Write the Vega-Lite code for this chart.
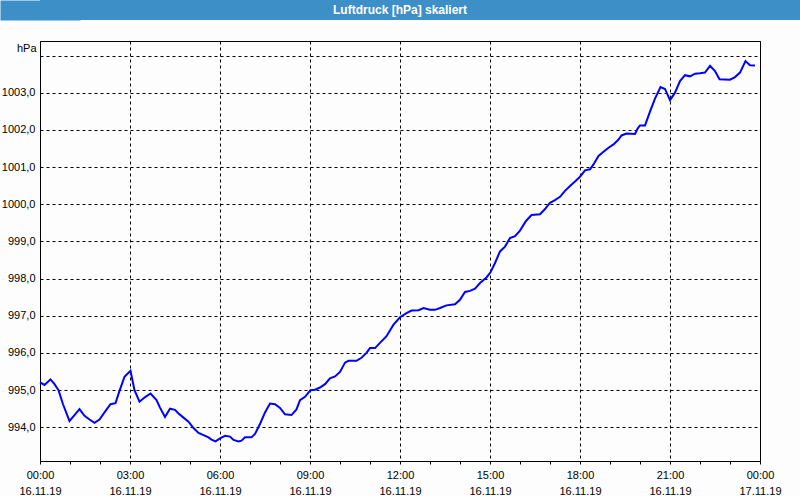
{
  "$schema": "https://vega.github.io/schema/vega-lite/v6.json",
  "padding": 0,
  "background": "#fcfdfc",
  "spacing": 20,
  "config": {
    "view": {"stroke": "#000000", "strokeWidth": 1},
    "font": "Liberation Sans"
  },
  "vconcat": [
    {
      "width": 760,
      "height": 20,
      "view": {"fill": "#3d8fc7", "stroke": null},
      "data": {"values": [{"title": "Luftdruck [hPa] skaliert"}]},
      "mark": {"type": "text", "color": "white", "font": "Liberation Sans", "fontWeight": "bold", "fontSize": 12, "align": "center", "baseline": "middle", "dx": -20},
      "encoding": {
        "text": {"field": "title", "type": "nominal"},
        "y": {"field": "title", "type": "nominal", "axis": {"title": null, "labels": false, "ticks": false, "domain": true, "domainColor": "#3d8fc7", "domainWidth": 80, "domainCap": "butt"}}
      }
    },
    {
      "width": 720,
      "height": 420,
      "data": {"values": [
        {"t": "2019-11-16T00:00", "p": 995.21},
        {"t": "2019-11-16T00:09", "p": 995.14},
        {"t": "2019-11-16T00:21", "p": 995.29},
        {"t": "2019-11-16T00:29", "p": 995.16},
        {"t": "2019-11-16T00:37", "p": 995.00},
        {"t": "2019-11-16T00:46", "p": 994.62},
        {"t": "2019-11-16T00:59", "p": 994.17},
        {"t": "2019-11-16T01:09", "p": 994.33},
        {"t": "2019-11-16T01:19", "p": 994.49},
        {"t": "2019-11-16T01:29", "p": 994.31},
        {"t": "2019-11-16T01:39", "p": 994.21},
        {"t": "2019-11-16T01:49", "p": 994.12},
        {"t": "2019-11-16T01:59", "p": 994.21},
        {"t": "2019-11-16T02:09", "p": 994.40},
        {"t": "2019-11-16T02:21", "p": 994.62},
        {"t": "2019-11-16T02:31", "p": 994.65},
        {"t": "2019-11-16T02:39", "p": 994.98},
        {"t": "2019-11-16T02:49", "p": 995.36},
        {"t": "2019-11-16T03:01", "p": 995.52},
        {"t": "2019-11-16T03:09", "p": 995.00},
        {"t": "2019-11-16T03:19", "p": 994.69},
        {"t": "2019-11-16T03:31", "p": 994.82},
        {"t": "2019-11-16T03:41", "p": 994.91},
        {"t": "2019-11-16T03:53", "p": 994.73},
        {"t": "2019-11-16T04:00", "p": 994.53},
        {"t": "2019-11-16T04:10", "p": 994.28},
        {"t": "2019-11-16T04:20", "p": 994.50},
        {"t": "2019-11-16T04:30", "p": 994.47},
        {"t": "2019-11-16T04:37", "p": 994.37},
        {"t": "2019-11-16T04:47", "p": 994.26},
        {"t": "2019-11-16T04:57", "p": 994.15},
        {"t": "2019-11-16T05:07", "p": 993.98},
        {"t": "2019-11-16T05:17", "p": 993.85},
        {"t": "2019-11-16T05:27", "p": 993.79},
        {"t": "2019-11-16T05:37", "p": 993.73},
        {"t": "2019-11-16T05:43", "p": 993.67},
        {"t": "2019-11-16T05:51", "p": 993.62},
        {"t": "2019-11-16T06:00", "p": 993.70},
        {"t": "2019-11-16T06:10", "p": 993.77},
        {"t": "2019-11-16T06:20", "p": 993.75},
        {"t": "2019-11-16T06:27", "p": 993.66},
        {"t": "2019-11-16T06:37", "p": 993.62},
        {"t": "2019-11-16T06:43", "p": 993.64},
        {"t": "2019-11-16T06:50", "p": 993.73},
        {"t": "2019-11-16T07:03", "p": 993.73},
        {"t": "2019-11-16T07:10", "p": 993.82},
        {"t": "2019-11-16T07:20", "p": 994.09},
        {"t": "2019-11-16T07:30", "p": 994.40},
        {"t": "2019-11-16T07:40", "p": 994.64},
        {"t": "2019-11-16T07:50", "p": 994.62},
        {"t": "2019-11-16T08:00", "p": 994.52},
        {"t": "2019-11-16T08:10", "p": 994.35},
        {"t": "2019-11-16T08:23", "p": 994.33},
        {"t": "2019-11-16T08:33", "p": 994.48},
        {"t": "2019-11-16T08:40", "p": 994.73},
        {"t": "2019-11-16T08:50", "p": 994.82},
        {"t": "2019-11-16T09:01", "p": 995.00},
        {"t": "2019-11-16T09:10", "p": 995.01},
        {"t": "2019-11-16T09:20", "p": 995.07},
        {"t": "2019-11-16T09:30", "p": 995.16},
        {"t": "2019-11-16T09:40", "p": 995.32},
        {"t": "2019-11-16T09:50", "p": 995.37},
        {"t": "2019-11-16T10:00", "p": 995.49},
        {"t": "2019-11-16T10:10", "p": 995.74},
        {"t": "2019-11-16T10:17", "p": 995.79},
        {"t": "2019-11-16T10:33", "p": 995.79},
        {"t": "2019-11-16T10:43", "p": 995.87},
        {"t": "2019-11-16T10:53", "p": 996.00},
        {"t": "2019-11-16T11:00", "p": 996.13},
        {"t": "2019-11-16T11:10", "p": 996.13},
        {"t": "2019-11-16T11:20", "p": 996.27},
        {"t": "2019-11-16T11:33", "p": 996.45},
        {"t": "2019-11-16T11:47", "p": 996.76},
        {"t": "2019-11-16T12:00", "p": 996.96},
        {"t": "2019-11-16T12:13", "p": 997.07},
        {"t": "2019-11-16T12:23", "p": 997.14},
        {"t": "2019-11-16T12:37", "p": 997.15},
        {"t": "2019-11-16T12:47", "p": 997.21},
        {"t": "2019-11-16T13:00", "p": 997.16},
        {"t": "2019-11-16T13:10", "p": 997.16},
        {"t": "2019-11-16T13:20", "p": 997.21},
        {"t": "2019-11-16T13:33", "p": 997.28},
        {"t": "2019-11-16T13:50", "p": 997.31},
        {"t": "2019-11-16T14:00", "p": 997.43},
        {"t": "2019-11-16T14:10", "p": 997.64},
        {"t": "2019-11-16T14:20", "p": 997.67},
        {"t": "2019-11-16T14:30", "p": 997.73},
        {"t": "2019-11-16T14:40", "p": 997.88},
        {"t": "2019-11-16T14:53", "p": 998.03},
        {"t": "2019-11-16T15:01", "p": 998.17},
        {"t": "2019-11-16T15:10", "p": 998.42},
        {"t": "2019-11-16T15:20", "p": 998.73},
        {"t": "2019-11-16T15:30", "p": 998.86},
        {"t": "2019-11-16T15:40", "p": 999.09},
        {"t": "2019-11-16T15:50", "p": 999.14},
        {"t": "2019-11-16T16:00", "p": 999.29},
        {"t": "2019-11-16T16:12", "p": 999.55},
        {"t": "2019-11-16T16:23", "p": 999.71},
        {"t": "2019-11-16T16:40", "p": 999.73},
        {"t": "2019-11-16T16:50", "p": 999.87},
        {"t": "2019-11-16T17:00", "p": 1000.04},
        {"t": "2019-11-16T17:10", "p": 1000.11},
        {"t": "2019-11-16T17:20", "p": 1000.20},
        {"t": "2019-11-16T17:30", "p": 1000.36},
        {"t": "2019-11-16T17:40", "p": 1000.49},
        {"t": "2019-11-16T17:50", "p": 1000.61},
        {"t": "2019-11-16T18:00", "p": 1000.74},
        {"t": "2019-11-16T18:10", "p": 1000.91},
        {"t": "2019-11-16T18:20", "p": 1000.94},
        {"t": "2019-11-16T18:27", "p": 1001.07},
        {"t": "2019-11-16T18:37", "p": 1001.30},
        {"t": "2019-11-16T18:47", "p": 1001.41},
        {"t": "2019-11-16T18:57", "p": 1001.52},
        {"t": "2019-11-16T19:07", "p": 1001.61},
        {"t": "2019-11-16T19:17", "p": 1001.74},
        {"t": "2019-11-16T19:23", "p": 1001.85},
        {"t": "2019-11-16T19:33", "p": 1001.90},
        {"t": "2019-11-16T19:50", "p": 1001.89},
        {"t": "2019-11-16T19:55", "p": 1002.03},
        {"t": "2019-11-16T20:00", "p": 1002.12},
        {"t": "2019-11-16T20:10", "p": 1002.12},
        {"t": "2019-11-16T20:20", "p": 1002.49},
        {"t": "2019-11-16T20:30", "p": 1002.84},
        {"t": "2019-11-16T20:41", "p": 1003.15},
        {"t": "2019-11-16T20:50", "p": 1003.10},
        {"t": "2019-11-16T21:00", "p": 1002.80},
        {"t": "2019-11-16T21:10", "p": 1003.00},
        {"t": "2019-11-16T21:20", "p": 1003.31},
        {"t": "2019-11-16T21:30", "p": 1003.47},
        {"t": "2019-11-16T21:40", "p": 1003.44},
        {"t": "2019-11-16T21:50", "p": 1003.51},
        {"t": "2019-11-16T22:00", "p": 1003.52},
        {"t": "2019-11-16T22:10", "p": 1003.54},
        {"t": "2019-11-16T22:20", "p": 1003.72},
        {"t": "2019-11-16T22:30", "p": 1003.58},
        {"t": "2019-11-16T22:39", "p": 1003.36},
        {"t": "2019-11-16T23:00", "p": 1003.35},
        {"t": "2019-11-16T23:10", "p": 1003.42},
        {"t": "2019-11-16T23:20", "p": 1003.54},
        {"t": "2019-11-16T23:31", "p": 1003.85},
        {"t": "2019-11-16T23:40", "p": 1003.74},
        {"t": "2019-11-16T23:50", "p": 1003.73}
      ]},
      "mark": {"type": "line", "color": "#0000ff", "strokeWidth": 2},
      "encoding": {
        "x": {
          "field": "t", "type": "temporal",
          "scale": {"domain": [{"year": 2019, "month": 11, "date": 16}, {"year": 2019, "month": 11, "date": 17}], "nice": false},
          "axis": {
            "title": null,
            "values": [
              {"year": 2019, "month": 11, "date": 16, "hours": 0},
              {"year": 2019, "month": 11, "date": 16, "hours": 1},
              {"year": 2019, "month": 11, "date": 16, "hours": 2},
              {"year": 2019, "month": 11, "date": 16, "hours": 3},
              {"year": 2019, "month": 11, "date": 16, "hours": 4},
              {"year": 2019, "month": 11, "date": 16, "hours": 5},
              {"year": 2019, "month": 11, "date": 16, "hours": 6},
              {"year": 2019, "month": 11, "date": 16, "hours": 7},
              {"year": 2019, "month": 11, "date": 16, "hours": 8},
              {"year": 2019, "month": 11, "date": 16, "hours": 9},
              {"year": 2019, "month": 11, "date": 16, "hours": 10},
              {"year": 2019, "month": 11, "date": 16, "hours": 11},
              {"year": 2019, "month": 11, "date": 16, "hours": 12},
              {"year": 2019, "month": 11, "date": 16, "hours": 13},
              {"year": 2019, "month": 11, "date": 16, "hours": 14},
              {"year": 2019, "month": 11, "date": 16, "hours": 15},
              {"year": 2019, "month": 11, "date": 16, "hours": 16},
              {"year": 2019, "month": 11, "date": 16, "hours": 17},
              {"year": 2019, "month": 11, "date": 16, "hours": 18},
              {"year": 2019, "month": 11, "date": 16, "hours": 19},
              {"year": 2019, "month": 11, "date": 16, "hours": 20},
              {"year": 2019, "month": 11, "date": 16, "hours": 21},
              {"year": 2019, "month": 11, "date": 16, "hours": 22},
              {"year": 2019, "month": 11, "date": 16, "hours": 23},
              {"year": 2019, "month": 11, "date": 17, "hours": 0}
            ],
            "labelExpr": "hours(datum.value) % 3 === 0 ? [timeFormat(datum.value, '%H:%M'), timeFormat(datum.value, '%d.%m.%y')] : ''",
            "labelFont": "Liberation Sans",
            "labelFontSize": 11,
            "labelColor": "#000000",
            "labelLineHeight": 16,
            "labelPadding": 5,
            "labelFlush": false,
            "labelOverlap": false,
            "labelBound": false,
            "domain": false,
            "ticks": true,
            "tickSize": 3,
            "tickColor": "#000000",
            "grid": true,
            "gridColor": "#000000",
            "gridDash": [3, 3],
            "gridOpacity": {"condition": {"test": "hours(datum.value) % 3 === 0", "value": 1}, "value": 0}
          }
        },
        "y": {
          "field": "p", "type": "quantitative",
          "scale": {"domain": [993.094, 1004.39], "nice": false, "zero": false},
          "axis": {
            "title": "hPa",
            "titleAngle": 0,
            "titleAlign": "right",
            "titleBaseline": "middle",
            "titleX": -4,
            "titleY": 7,
            "titleFont": "Liberation Sans",
            "titleFontSize": 11,
            "titleFontWeight": "normal",
            "titleColor": "#000000",
            "values": [994, 995, 996, 997, 998, 999, 1000, 1001, 1002, 1003, 1004],
            "labelExpr": "datum.value > 1003.5 ? '' : replace(format(datum.value, '.1f'), '.', ',')",
            "labelFont": "Liberation Sans",
            "labelFontSize": 11,
            "labelColor": "#000000",
            "labelPadding": 5,
            "ticks": false,
            "domain": false,
            "grid": true,
            "gridColor": "#000000",
            "gridDash": [3, 3]
          }
        }
      }
    }
  ]
}
